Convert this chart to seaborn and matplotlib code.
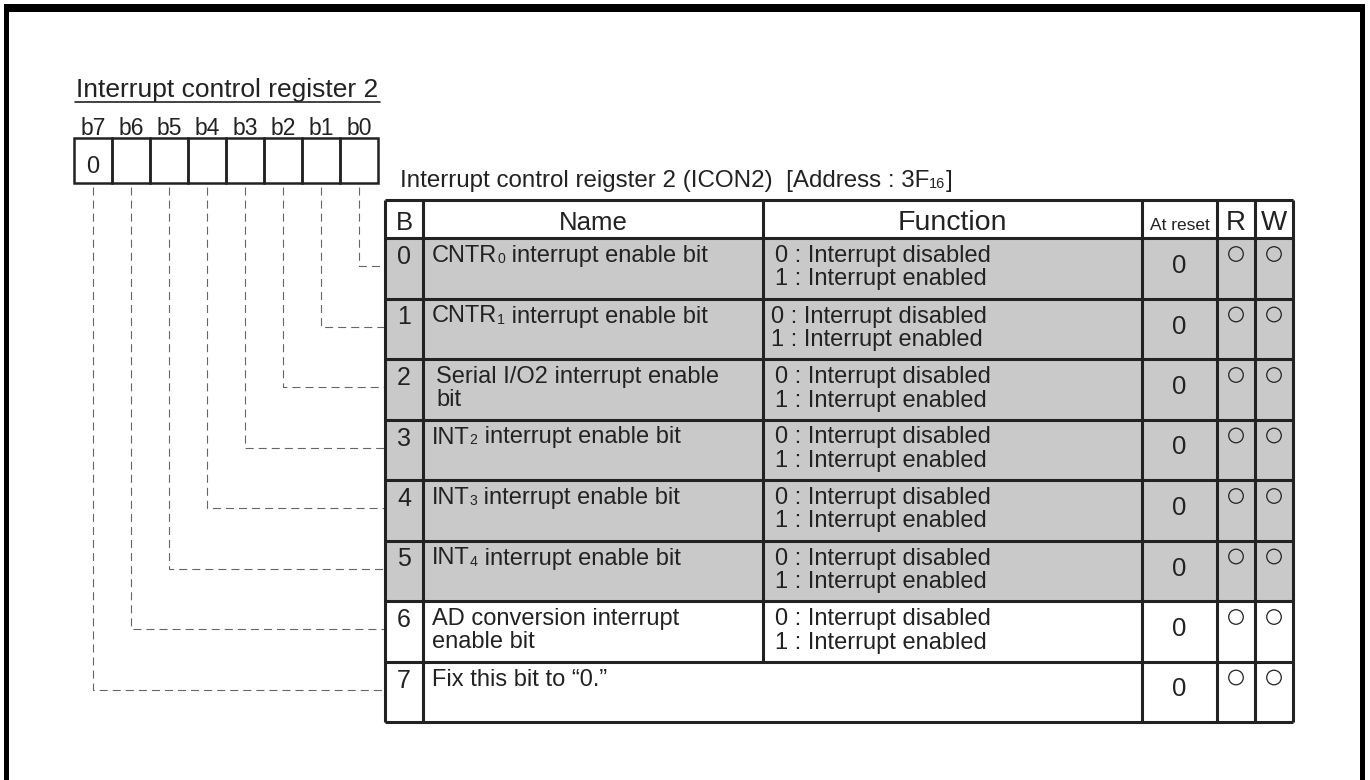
import numpy as np
import pandas as pd
import matplotlib.pyplot as plt
from matplotlib.patches import Rectangle
import seaborn as sns

# Contenido del registro (los subindices van entre "_{" y "}")
register_title = "Interrupt control register 2"
table_caption = "Interrupt control reigster 2 (ICON2)  [Address : 3F_{16}]"
bit_labels = ["b7", "b6", "b5", "b4", "b3", "b2", "b1", "b0"]
box_values = ["0", "", "", "", "", "", "", ""]
header = ["B", "Name", "Function", "At reset", "R", "W"]
bit_numbers = ["0", "1", "2", "3", "4", "5", "6", "7"]
bit_names = [
    "CNTR_{0} interrupt enable bit",
    "CNTR_{1} interrupt enable bit",
    "Serial I/O2 interrupt enable\nbit",
    "INT_{2} interrupt enable bit",
    "INT_{3} interrupt enable bit",
    "INT_{4} interrupt enable bit",
    "AD conversion interrupt\nenable bit",
    "Fix this bit to \u201c0.\u201d",
]
functions = ["0 : Interrupt disabled\n1 : Interrupt enabled"] * 7 + [""]
reset_values = ["0", "0", "0", "0", "0", "0", "0", "0"]
readable = [True, True, True, True, True, True, True, True]
writable = [True, True, True, True, True, True, True, True]
shaded = [True, True, True, True, True, True, False, False]

# Estilo
sns.set_theme(style="white")
plt.rcParams["font.family"] = ["Liberation Sans", "DejaVu Sans"]
plt.rcParams["lines.scale_dashes"] = False

INK = "#222222"
GREY = "#c9c9c9"
DASH = "#666666"

# Geometria (pixeles)
BOX_X0, BOX_W, BOX_Y0, BOX_Y1 = 74, 38, 138, 183
COLS = [385, 423, 763, 1142, 1217, 1255, 1293]
Y_HEAD, Y_ROW0, ROW_H = 200, 238, 60.5
N = len(bit_numbers)
BODY = 17

fig = plt.figure(figsize=(13.7, 7.8), dpi=100)
ax = fig.add_axes([0, 0, 1, 1])
ax.set_xlim(0, 1370)
ax.set_ylim(780, 0)
ax.axis("off")
renderer = fig.canvas.get_renderer()


def rich_text(x, y, s, fs):
    """Texto con subindices pequenos sobre la linea base."""
    parts = s.replace("}", "_{").split("_{")
    for n, seg in enumerate(parts):
        if not seg:
            continue
        sub = n % 2 == 1
        t = ax.text(x, y + (1 if sub else 0), seg, fontsize=fs * (0.6 if sub else 1),
                    ha="left", va="baseline", color=INK)
        bb = t.get_window_extent(renderer)
        x = ax.transData.inverted().transform((bb.x1, bb.y0))[0]


# Marco exterior
ax.plot([6.5, 6.5], [8, 790], color="black", lw=5 * 0.72, solid_capstyle="butt")
ax.plot([1362.5, 1362.5], [8, 790], color="black", lw=5 * 0.72, solid_capstyle="butt")
ax.plot([4, 1365], [8, 8], color="black", lw=8 * 0.72, solid_capstyle="butt")

# Titulo del registro
ax.text(76, 97, register_title, fontsize=19, ha="left", va="baseline", color=INK)
ax.plot([75, 380], [102, 102], color=INK, lw=1.2)

# Casillas de bits
for i, (lab, val) in enumerate(zip(bit_labels, box_values)):
    x0 = BOX_X0 + i * BOX_W
    ax.add_patch(Rectangle((x0, BOX_Y0), BOX_W, BOX_Y1 - BOX_Y0, fill=False,
                           ec=INK, lw=1.8))
    ax.text(x0 + BOX_W / 2, 135, lab, fontsize=16.5, ha="center", va="baseline", color=INK)
    if val:
        ax.text(x0 + BOX_W / 2, 173, val, fontsize=17, ha="center", va="baseline",
                color=INK)

# Titulo de la tabla
rich_text(400, 187, table_caption, 17.4)

row_top = [Y_ROW0 + k * ROW_H for k in range(N)]
y_end = Y_ROW0 + N * ROW_H

# Sombreado de filas
for k in range(N):
    if shaded[k]:
        ax.add_patch(Rectangle((COLS[0], row_top[k]), COLS[-1] - COLS[0], ROW_H,
                               fc=GREY, ec="none", zorder=0))

# Lineas de la tabla
lw_t = 2.2
ax.hlines([Y_HEAD, Y_ROW0] + [row_top[k] + ROW_H for k in range(N)],
          COLS[0], COLS[-1], color=INK, lw=lw_t, zorder=3)
for j, cx in enumerate(COLS):
    if j == 2:
        ax.vlines(cx, Y_HEAD, row_top[N - 1], color=INK, lw=lw_t, zorder=3)
    else:
        ax.vlines(cx, Y_HEAD, y_end, color=INK, lw=lw_t, zorder=3)

# Cabecera
centers = [(COLS[j] + COLS[j + 1]) / 2 for j in range(6)]
head_sizes = [18.5, 18.5, 20.5, 12.5, 20, 20]
for c, h, fs in zip(centers, header, head_sizes):
    ax.text(c, 230, h, fontsize=fs, ha="center", va="baseline", color=INK)

# Filas
for k in range(N):
    top = row_top[k]
    ax.text(centers[0], top + 26, bit_numbers[k], fontsize=18, ha="center",
            va="baseline", color=INK)
    for m, line in enumerate(bit_names[k].split("\n")):
        xoff = 436 if k == 2 else 432
        rich_text(xoff, top + 24 + 23.5 * m, line, BODY)
    for m, line in enumerate(functions[k].split("\n")):
        if line:
            xoff = 771 if k == 1 else 775
            ax.text(xoff, top + 24 + 23.5 * m, line, fontsize=BODY, ha="left",
                    va="baseline", color=INK)
    ax.text(centers[3], top + 35, reset_values[k], fontsize=18.5, ha="center",
            va="baseline", color=INK)

# Marcas R / W
rw = pd.DataFrame({
    "x": [centers[4] if r else np.nan for r in readable] + [centers[5] if w else np.nan for w in writable],
    "y": [t + 16 for t in row_top] * 2,
})
sns.scatterplot(data=rw, x="x", y="y", marker="o", s=110, color="none",
                edgecolor=INK, linewidth=0.9, legend=False, ax=ax, zorder=5)
ax.set_xlim(0, 1370)
ax.set_ylim(780, 0)
ax.axis("off")

# Lineas discontinuas desde cada bit hasta su fila
dash = (0, (5.8, 3.6))
for k in range(N):
    bx = BOX_X0 + (N - 1 - k) * BOX_W + BOX_W / 2
    by = row_top[k] + ROW_H / 2 - 2
    ax.plot([bx, bx, COLS[0]], [BOX_Y1 + 4, by, by], color=DASH, lw=0.8,
            linestyle=dash, zorder=1)

fig.savefig("out.png", dpi=100)
